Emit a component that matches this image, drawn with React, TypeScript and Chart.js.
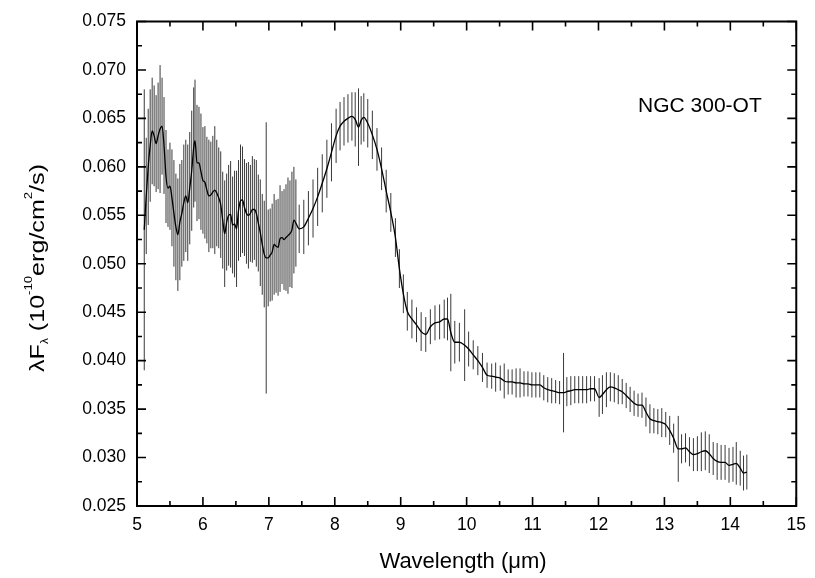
import React, { useEffect, useRef } from "react";
import { Chart, registerables } from "chart.js";

Chart.register(...registerables);

// Wavelength (µm)
const wavelength = [
  5.11, 5.14, 5.17, 5.2, 5.23, 5.26, 5.29, 5.32, 5.35, 5.38, 5.41, 5.44, 5.47, 5.5, 5.53, 5.56, 5.59, 5.62,
  5.65, 5.68, 5.71, 5.74, 5.77, 5.8, 5.83, 5.86, 5.88, 5.91, 5.94, 5.97, 6.0, 6.03, 6.06, 6.09, 6.12, 6.15,
  6.18, 6.21, 6.24, 6.27, 6.3, 6.33, 6.36, 6.39, 6.42, 6.45, 6.48, 6.51, 6.54, 6.57, 6.6, 6.63, 6.66, 6.69,
  6.72, 6.75, 6.78, 6.81, 6.84, 6.87, 6.9, 6.93, 6.96, 6.99, 7.02, 7.05, 7.08, 7.11, 7.14, 7.17, 7.2, 7.23,
  7.26, 7.29, 7.32, 7.35, 7.38, 7.41,
  7.46, 7.53, 7.6, 7.67, 7.74, 7.81, 7.88, 7.95, 8.02, 8.08, 8.14, 8.2, 8.26, 8.31, 8.36, 8.4, 8.44, 8.5,
  8.57, 8.64, 8.71, 8.78, 8.85, 8.92, 8.98, 9.04, 9.1, 9.17, 9.24, 9.31, 9.38, 9.45, 9.52, 9.59, 9.66, 9.71,
  9.76, 9.82, 9.89, 9.97, 10.03, 10.1, 10.17, 10.24, 10.31, 10.38, 10.44, 10.51, 10.57, 10.63, 10.69, 10.75,
  10.81, 10.87, 10.93, 10.99, 11.05, 11.11, 11.17, 11.23, 11.29, 11.35, 11.41, 11.47, 11.52, 11.58, 11.64,
  11.7, 11.76, 11.82, 11.88, 11.94, 12.01, 12.06, 12.12, 12.18, 12.24, 12.3, 12.36, 12.42, 12.48, 12.54,
  12.6, 12.66, 12.72, 12.78, 12.84, 12.9, 12.96, 13.02, 13.08, 13.14, 13.21, 13.26, 13.32, 13.38, 13.44,
  13.5, 13.56, 13.62, 13.68, 13.74, 13.8, 13.86, 13.92, 13.98, 14.04, 14.09, 14.15, 14.2, 14.25,
];

// λFλ (10^-10 erg/cm^2/s)
const flux = [
  0.0535, 0.057, 0.06, 0.0622, 0.0637, 0.0632, 0.0624, 0.0632, 0.0639, 0.0642, 0.0622, 0.059, 0.0578, 0.058,
  0.0568, 0.0552, 0.0538, 0.053, 0.0543, 0.0552, 0.0563, 0.057, 0.0563, 0.0578, 0.0596, 0.062, 0.0627, 0.0604,
  0.0604, 0.0595, 0.0586, 0.0584, 0.0576, 0.057, 0.0571, 0.0574, 0.0576, 0.0573, 0.0568, 0.0561, 0.0545,
  0.0531, 0.0543, 0.055, 0.0551, 0.054, 0.0541, 0.0536, 0.0555, 0.0565, 0.0566, 0.0558, 0.0552, 0.055,
  0.0552, 0.0556, 0.0556, 0.0552, 0.0542, 0.0532, 0.052, 0.051, 0.0506, 0.0506, 0.0509, 0.0512, 0.052,
  0.0518, 0.0517, 0.0526, 0.0527, 0.0525, 0.0527, 0.0529, 0.0531, 0.0535, 0.0545, 0.0542,
  0.0536, 0.0538, 0.0547, 0.0557, 0.0569, 0.0583, 0.0598, 0.0615, 0.0632, 0.0642, 0.0647, 0.065, 0.0652,
  0.0649, 0.0641, 0.0648, 0.0651, 0.0645, 0.0633, 0.0618, 0.0598, 0.0575, 0.0553, 0.0527, 0.0495, 0.0469,
  0.0451, 0.0443, 0.0437, 0.043, 0.0427, 0.0435, 0.0439, 0.044, 0.0443, 0.0443, 0.0429, 0.0419, 0.0419,
  0.0416, 0.0412, 0.0406, 0.04, 0.0393, 0.0385, 0.0384, 0.0383, 0.0382, 0.0379, 0.0378, 0.0378, 0.0377,
  0.0377, 0.0376, 0.0376, 0.0375, 0.0375, 0.0375, 0.0372, 0.037, 0.0369, 0.0368, 0.0367, 0.0367, 0.0368,
  0.0369, 0.037, 0.037, 0.037, 0.037, 0.0371, 0.0371, 0.0362, 0.0365, 0.037, 0.0373, 0.0372, 0.037,
  0.0368, 0.0364, 0.036, 0.0356, 0.0354, 0.0354, 0.0347, 0.034, 0.0338, 0.0337, 0.0336, 0.0334, 0.0328,
  0.032, 0.0309, 0.0309, 0.031, 0.0306, 0.0303, 0.0304, 0.0306, 0.0307, 0.0304, 0.0299, 0.0296, 0.0295,
  0.0295, 0.0292, 0.0293, 0.0294, 0.0289, 0.0284, 0.0285,
];

// Uncertainty (same units)
const fluxErr = [
  0.0145, 0.006, 0.006, 0.0058, 0.0055, 0.0052, 0.005, 0.0055, 0.0066, 0.005, 0.005, 0.0048, 0.004, 0.0045,
  0.005, 0.0055, 0.0055, 0.0058, 0.006, 0.0055, 0.006, 0.0058, 0.006, 0.0058, 0.0062, 0.0062, 0.0063, 0.006,
  0.0058, 0.006, 0.0055, 0.0058, 0.0055, 0.0058, 0.0055, 0.0058, 0.0066, 0.0055, 0.0052, 0.0055, 0.005,
  0.0055, 0.005, 0.0052, 0.0055, 0.005, 0.0055, 0.006, 0.0052, 0.0058, 0.0055, 0.005, 0.0052, 0.0055, 0.005,
  0.0055, 0.0052, 0.0055, 0.005, 0.0055, 0.0052, 0.0055, 0.014, 0.005, 0.0048, 0.005, 0.0052, 0.0048, 0.005,
  0.0055, 0.0048, 0.0052, 0.0055, 0.006, 0.0055, 0.006, 0.0055, 0.0045,
  0.0025, 0.0028, 0.0028, 0.003, 0.003, 0.003, 0.003, 0.003, 0.0028, 0.0025, 0.0025, 0.0025, 0.0025, 0.0028,
  0.004, 0.0025, 0.0025, 0.0025, 0.0025, 0.0022, 0.0022, 0.0022, 0.002, 0.002, 0.002, 0.002, 0.002, 0.002,
  0.0018, 0.002, 0.0018, 0.0018, 0.0018, 0.0018, 0.002, 0.0022, 0.004, 0.0022, 0.002, 0.0037, 0.0018,
  0.0015, 0.0015, 0.0015, 0.0013, 0.0013, 0.0015, 0.0013, 0.0018, 0.0013, 0.0013, 0.0015, 0.0015, 0.0013,
  0.0013, 0.0013, 0.0013, 0.0013, 0.0013, 0.0013, 0.0013, 0.0012, 0.0012, 0.0041, 0.0015, 0.0015, 0.0014,
  0.0014, 0.0014, 0.0014, 0.0013, 0.0013, 0.002, 0.002, 0.0018, 0.0015, 0.0015, 0.0015, 0.0013, 0.0013,
  0.0013, 0.0013, 0.0012, 0.0013, 0.0015, 0.0015, 0.0013, 0.0013, 0.0015, 0.0013, 0.0015, 0.0015, 0.0034,
  0.0015, 0.0015, 0.0015, 0.0017, 0.0018, 0.002, 0.002, 0.002, 0.0017, 0.0019, 0.0018, 0.0018, 0.0018,
  0.0018, 0.0022, 0.0018, 0.0018, 0.0018,
];

const xTicks = [5, 6, 7, 8, 9, 10, 11, 12, 13, 14, 15];
const yTicks = [0.025, 0.03, 0.035, 0.04, 0.045, 0.05, 0.055, 0.06, 0.065, 0.07, 0.075];
const xLabel = "Wavelength (\u03bcm)";
const objectName = "NGC 300-OT";
const annotationPos = { x: 12.6, y: 0.0657 };

const FONT = "'Liberation Sans', Arial, Helvetica, sans-serif";

export default function App() {
  const canvasRef = useRef<HTMLCanvasElement>(null);

  useEffect(() => {
    const canvas = canvasRef.current;
    if (!canvas) return;

    const errorBars = {
      id: "errorBars",
      beforeDatasetsDraw(chart: any) {
        const { ctx, chartArea, scales } = chart;
        const x = scales.x;
        const y = scales.y;
        ctx.save();
        ctx.beginPath();
        ctx.rect(chartArea.left, chartArea.top, chartArea.right - chartArea.left, chartArea.bottom - chartArea.top);
        ctx.clip();
        ctx.strokeStyle = "#3a3a3a";
        ctx.lineWidth = 1;
        ctx.beginPath();
        for (let i = 0; i < wavelength.length; i++) {
          const px = x.getPixelForValue(wavelength[i]);
          ctx.moveTo(px, y.getPixelForValue(flux[i] + fluxErr[i]));
          ctx.lineTo(px, y.getPixelForValue(flux[i] - fluxErr[i]));
        }
        ctx.stroke();
        ctx.restore();
      },
    };

    const frame = {
      id: "frame",
      afterDraw(chart: any) {
        const { ctx, chartArea, scales } = chart;
        const x = scales.x;
        const y = scales.y;
        const { left, right, top, bottom } = chartArea;
        ctx.save();
        ctx.strokeStyle = "#000";
        ctx.lineWidth = 1.6;
        const major = 9;
        const minor = 5;
        ctx.beginPath();
        for (let i = 0; i < xTicks.length; i++) {
          const px = x.getPixelForValue(xTicks[i]);
          ctx.moveTo(px, bottom);
          ctx.lineTo(px, bottom - major);
          ctx.moveTo(px, top);
          ctx.lineTo(px, top + major);
          if (i < xTicks.length - 1) {
            const pm = x.getPixelForValue((xTicks[i] + xTicks[i + 1]) / 2);
            ctx.moveTo(pm, bottom);
            ctx.lineTo(pm, bottom - minor);
            ctx.moveTo(pm, top);
            ctx.lineTo(pm, top + minor);
          }
        }
        for (let i = 0; i < yTicks.length; i++) {
          const py = y.getPixelForValue(yTicks[i]);
          ctx.moveTo(left, py);
          ctx.lineTo(left + major, py);
          ctx.moveTo(right, py);
          ctx.lineTo(right - major, py);
          if (i < yTicks.length - 1) {
            const pm = y.getPixelForValue((yTicks[i] + yTicks[i + 1]) / 2);
            ctx.moveTo(left, pm);
            ctx.lineTo(left + minor, pm);
            ctx.moveTo(right, pm);
            ctx.lineTo(right - minor, pm);
          }
        }
        ctx.stroke();
        ctx.lineWidth = 2;
        ctx.strokeRect(left, top, right - left, bottom - top);

        // annotation
        ctx.fillStyle = "#000";
        ctx.font = `21px ${FONT}`;
        ctx.textAlign = "left";
        ctx.textBaseline = "alphabetic";
        ctx.fillText(objectName, x.getPixelForValue(annotationPos.x), y.getPixelForValue(annotationPos.y));

        // x title
        ctx.font = `22px ${FONT}`;
        ctx.textAlign = "center";
        ctx.textBaseline = "middle";
        ctx.fillText(xLabel, 463, 562);

        // y title with sub/superscripts
        const segs = [
          { t: "\u03bbF", s: 21, dy: 0 },
          { t: "\u03bb", s: 10, dy: 4 },
          { t: " (10", s: 21, dy: 0 },
          { t: "-10", s: 11, dy: -12.5 },
          { t: "erg/cm", s: 21, dy: 0 },
          { t: "2", s: 11, dy: -12.5 },
          { t: "/s)", s: 21, dy: 0 },
        ];
        ctx.textAlign = "left";
        ctx.textBaseline = "alphabetic";
        let total = 0;
        const widths: number[] = [];
        for (const sg of segs) {
          ctx.font = `${sg.s}px ${FONT}`;
          const w = ctx.measureText(sg.t).width;
          widths.push(w);
          total += w;
        }
        ctx.translate(44, 268);
        ctx.rotate(-Math.PI / 2);
        ctx.scale(208 / total, 1);
        let cx = -total / 2;
        segs.forEach((sg, i) => {
          ctx.font = `${sg.s}px ${FONT}`;
          ctx.fillText(sg.t, cx, sg.dy);
          cx += widths[i];
        });
        ctx.restore();
      },
    };

    const chart = new Chart(canvas, {
      type: "line",
      data: {
        datasets: [
          {
            data: wavelength.map((w, i) => ({ x: w, y: flux[i] })),
            borderColor: "#000",
            borderWidth: 1.3,
            pointRadius: 0,
            cubicInterpolationMode: "monotone",
            fill: false,
          },
        ],
      },
      options: {
        animation: false,
        responsive: false,
        maintainAspectRatio: false,
        layout: { padding: { top: 16, right: 12, left: 0, bottom: 0 } },
        plugins: { legend: { display: false }, tooltip: { enabled: false } },
        events: [],
        scales: {
          x: {
            type: "linear",
            min: 5,
            max: 15,
            afterBuildTicks: (s: any) => {
              s.ticks = xTicks.map((v) => ({ value: v }));
            },
            afterFit: (s: any) => {
              s.height = 72;
            },
            grid: { display: false, drawTicks: false },
            border: { display: false },
            ticks: {
              color: "#000",
              font: { family: FONT, size: 17.5 },
              padding: 9,
              maxRotation: 0,
              callback: (v: any) => String(v),
            },
          },
          y: {
            type: "linear",
            min: 0.025,
            max: 0.075,
            afterBuildTicks: (s: any) => {
              s.ticks = yTicks.map((v) => ({ value: v }));
            },
            afterFit: (s: any) => {
              s.width = 137;
            },
            grid: { display: false, drawTicks: false },
            border: { display: false },
            ticks: {
              color: "#000",
              font: { family: FONT, size: 17.5 },
              padding: 11,
              callback: (v: any) => Number(v).toFixed(3),
            },
          },
        },
      },
      plugins: [errorBars, frame],
    } as any);

    return () => chart.destroy();
  }, []);

  return (
    <div style={{ position: "fixed", left: 0, top: 0, width: 815, height: 578, background: "#fff" }}>
      <canvas ref={canvasRef} width={815} height={578} style={{ display: "block", width: 815, height: 578 }} />
    </div>
  );
}
